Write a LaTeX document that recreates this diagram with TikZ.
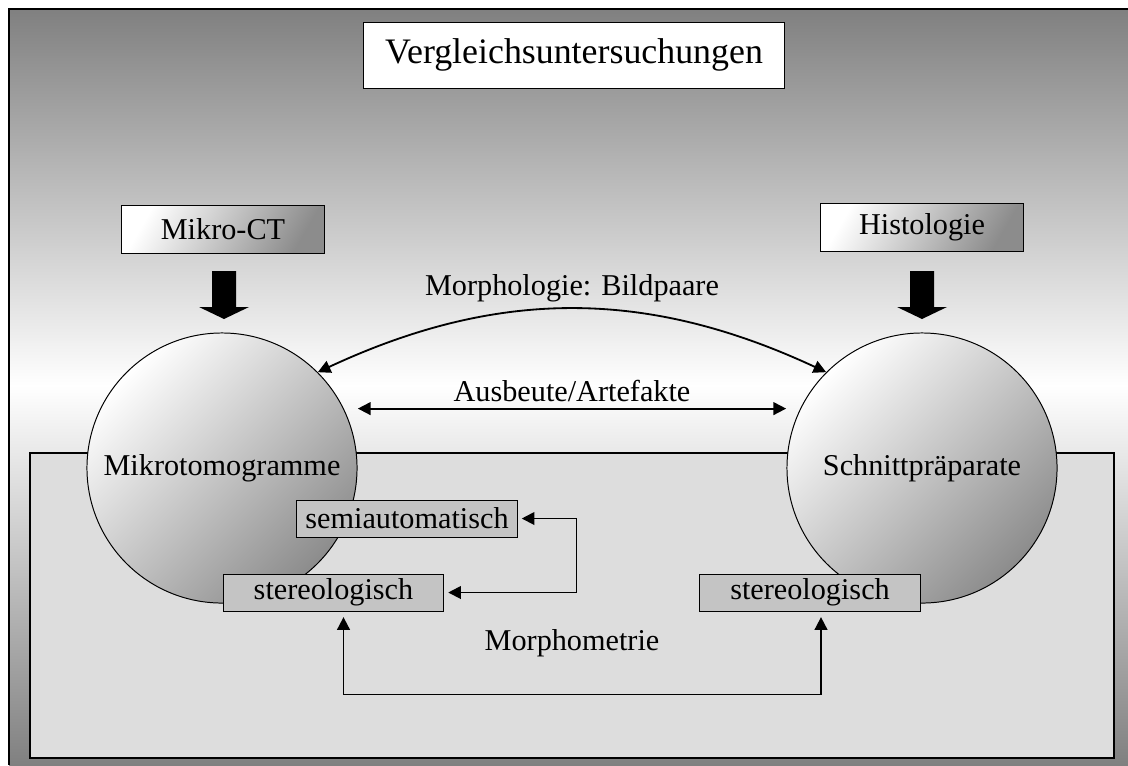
\documentclass[tikz,border=0pt]{standalone}
\usepackage{fontspec}
\setmainfont{Liberation Serif}
\usetikzlibrary{arrows.meta,calc}

\definecolor{bgdark}{RGB}{128,128,128}
\definecolor{panelgray}{RGB}{221,221,221}
\definecolor{boxgray}{RGB}{196,196,196}
\definecolor{balldark}{RGB}{140,140,140}

\begin{document}
\begin{tikzpicture}[x=0.025cm, y=-0.025cm,
  every node/.style={font=\fontsize{21.5}{26}\selectfont},
  method/.style={draw, line width=0.7pt, top color=white, bottom color=balldark,
    shading angle=60, minimum width=5.05cm, minimum height=1.2cm},
  ball/.style={circle, draw, line width=0.7pt, top color=white, bottom color=balldark,
    shading angle=45, minimum size=6.75cm, inner sep=0pt},
  subbox/.style={draw, line width=0.7pt, fill=boxgray, minimum width=5.5cm,
    minimum height=0.925cm, inner sep=0pt},
  conn/.style={line width=1.3pt,
    {Triangle[length=9pt,width=9pt]}-{Triangle[length=9pt,width=9pt]}}]

  \useasboundingbox (0,0) rectangle (1128,765);

  % ---------------- background ----------------
  \shade[top color=bgdark, bottom color=white] (9,9) rectangle (1128,386);
  \shade[top color=white, bottom color=bgdark] (9,385) rectangle (1128,765);
  \draw[line width=1.5pt] (9,765) -- (9,9) -- (1128,9);
  \draw[line width=0.8pt, fill=panelgray] (30,453) rectangle (1114,758);

  % ---------------- title ----------------
  \node[draw, line width=0.7pt, fill=white, minimum width=10.5cm, minimum height=1.65cm,
    font=\fontsize{25.5}{30}\selectfont] (title) at (574,55) {Vergleichsuntersuchungen};

  % ---------------- methods and their results ----------------
  \node[method] (mct) at (223,229) {Mikro-CT};
  \node[method] (histo) at (922,227) {Histologie};

  \fill (212,271) -- (236,271) -- (236,307) -- (249,307) -- (224,319) -- (199,307)
    -- (212,307) -- cycle;
  \fill (910,271) -- (934,271) -- (934,307) -- (947,307) -- (922,319) -- (897,307)
    -- (910,307) -- cycle;

  \node[ball] (lball) at (222,468) {Mikrotomogramme};
  \node[ball] (rball) at (922,468) {Schnittpräparate};

  % comparisons between the two
  \draw[conn] (lball.45) to[bend left=25]
    node[midway, above=1pt] (bild) {Morphologie: Bildpaare} (rball.135);
  \draw[conn, shorten <=10pt, shorten >=10pt] (lball.26) --
    node[midway, above=1pt] (ausb) {Ausbeute/Artefakte} (rball.154);

  % ---------------- morphometry ----------------
  \node[subbox] (semi) at (407,518.5) {semiautomatisch};
  \node[subbox] (stereoL) at (333.5,592.5) {stereologisch};
  \node[subbox] (stereoR) at (810,592.5) {stereologisch};
  \node (morph) at (572,643) {Morphometrie};

  \draw[conn, shorten <=3pt, shorten >=3pt] (semi.east) -- ++(59,0) |- (stereoL.east);
  \draw[conn, shorten <=4pt, shorten >=4pt] ($(stereoL.south)+(10,0)$) -- ++(0,83)
    -| ($(stereoR.south)+(11,0)$);

\end{tikzpicture}
\end{document}
